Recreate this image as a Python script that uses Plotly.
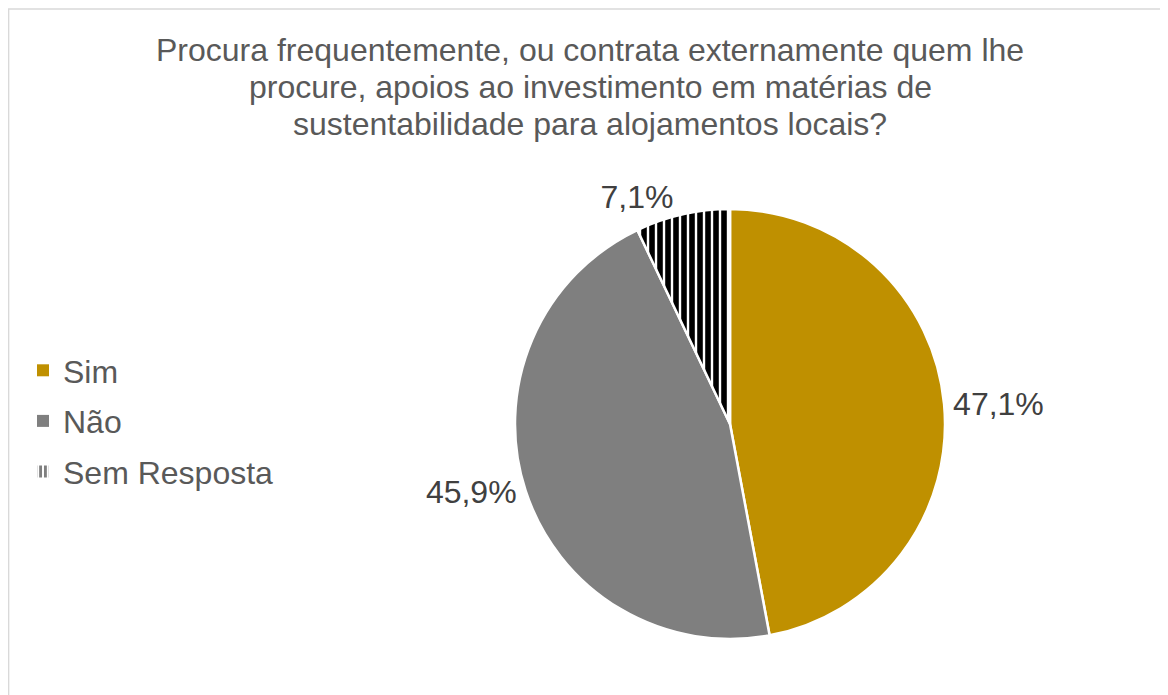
import plotly.graph_objects as go

# Survey answers (percent)
labels = ['Sim', 'Não', 'Sem Resposta']
values = [47.1, 45.9, 7.1]
value_text = ['47,1%', '45,9%', '7,1%']
colors = ['#BF9000', '#7F7F7F', '#FFFFFF']
patterns = ['', '', '|']

title_lines = ['Procura frequentemente, ou contrata externamente quem lhe',
               'procure, apoios ao investimento em matérias de',
               'sustentabilidade para alojamentos locais?']

W, H = 1168, 695

fig = go.Figure()

fig.add_trace(go.Pie(
    labels=labels,
    values=values,
    text=value_text,
    texttemplate='%{text}',
    textposition='outside',
    textfont=dict(size=32, color='#404040'),
    sort=False,
    direction='clockwise',
    rotation=0,
    marker=dict(
        colors=colors,
        line=dict(color='white', width=2.5),
        pattern=dict(shape=patterns, fgcolor='black', bgcolor='white',
                     size=8, solidity=0.7, fillmode='replace'),
    ),
    showlegend=False,
    domain=dict(x=[507 / W, 937 / W], y=[1 - 631 / H, 1 - 201 / H]),
))

# legend entries (empty bars so the items can be spaced like the original)
for lab, col, pat in zip(labels, colors, patterns):
    fig.add_trace(go.Bar(
        x=[None], y=[None], name=lab, legendgroup=lab,
        marker=dict(color=col if pat == '' else 'white', line=dict(width=0),
                    pattern=dict(shape=pat, fgcolor='black', bgcolor='white',
                                 size=6, solidity=0.6)),
    ))

# chart title, one line per annotation to keep the tight line spacing
for i, line in enumerate(title_lines):
    fig.add_annotation(text=line, xref='paper', yref='paper',
                       x=582 / W, y=1 - (42 + 37 * i) / H,
                       xanchor='center', yanchor='middle', showarrow=False,
                       font=dict(size=32, color='#595959'))

# light frame of the chart area
fig.add_shape(type='rect', xref='paper', yref='paper',
              x0=0.6 / W, x1=1.02, y0=-0.02, y1=1 - 1 / H,
              line=dict(color='#D9D9D9', width=1.5), fillcolor='rgba(0,0,0,0)')

fig.update_layout(
    width=W, height=H,
    margin=dict(l=0, r=0, t=0, b=0),
    paper_bgcolor='white', plot_bgcolor='white',
    font=dict(family='Liberation Sans, Arial, sans-serif', color='#595959'),
    xaxis=dict(visible=False), yaxis=dict(visible=False),
    legend=dict(x=15 / W, xanchor='left', y=1 - 335 / H, yanchor='top',
                font=dict(size=32, color='#595959'), tracegroupgap=6,
                itemwidth=30, bgcolor='rgba(0,0,0,0)'),
)

fig.write_html('out.html')
